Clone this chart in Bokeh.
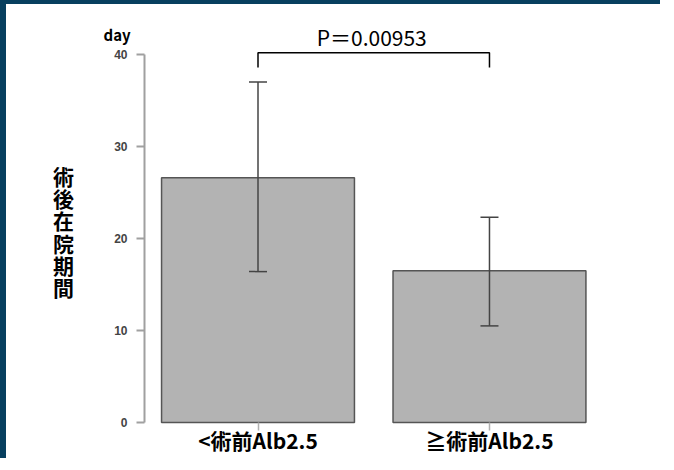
from bokeh.plotting import figure
from bokeh.models import FixedTicker, Label, Whisker, TeeHead, ColumnDataSource
from bokeh.embed import file_html
from bokeh.resources import INLINE

# ---- data ----
categories = ["<術前Alb2.5", "≧術前Alb2.5"]
means = [26.6, 16.5]
upper = [37.0, 22.3]
lower = [16.4, 10.5]
y_ticks = [0, 10, 20, 30, 40]
y_title = "術後在院期間"
y_unit = "day"
p_label = "P＝0.00953"

# R barplot convention: width 1, space 0.2
xs = [0.7 + 1.2 * i for i in range(len(categories))]
axis_x = 0.1116  # where the y axis line sits (R offsets it left of the first bar)

NAVY = "#073f5f"
p = figure(width=660, height=458, x_range=(-0.6038, 2.8177), y_range=(-4.348, 45.435),
           output_backend="svg", toolbar_location=None,
           min_border_left=0, min_border_right=0, min_border_top=0, min_border_bottom=0)
p.styles = {"border-left": f"6px solid {NAVY}", "border-top": f"4px solid {NAVY}"}
p.outline_line_color = None
p.grid.visible = False
p.background_fill_color = "white"
p.border_fill_color = "white"

src = ColumnDataSource(dict(x=xs, top=means, upper=upper, lower=lower))
p.vbar(x="x", top="top", bottom=0, width=1.0, source=src,
       fill_color="#b3b3b3", line_color="#555555", line_width=1.5)

w = Whisker(base="x", upper="upper", lower="lower", source=src, level="overlay",
            line_color="#444444", line_width=1.5,
            upper_head=TeeHead(size=18, line_color="#444444", line_width=1.5),
            lower_head=TeeHead(size=18, line_color="#444444", line_width=1.5))
p.add_layout(w)

# y axis
ya = p.yaxis[0]
ya.fixed_location = axis_x
ya.ticker = FixedTicker(ticks=y_ticks)
ya.bounds = (y_ticks[0], y_ticks[-1])
ya.axis_line_color = "#a0a0a0"
ya.axis_line_width = 2
ya.major_tick_line_color = "#a0a0a0"
ya.major_tick_line_width = 2
ya.major_tick_out = 8
ya.major_tick_in = 0
ya.minor_tick_line_color = None
ya.major_label_standoff = 9
ya.major_label_text_font = "Liberation Sans"
ya.major_label_text_font_style = "bold"
ya.major_label_text_font_size = "12px"
ya.major_label_text_color = "#444444"

# x axis
xa = p.xaxis[0]
xa.fixed_location = 0
xa.ticker = FixedTicker(ticks=xs)
xa.major_label_overrides = {x: c for x, c in zip(xs, categories)}
xa.axis_line_color = None
xa.major_tick_line_color = "#b0b0b0"
xa.major_tick_line_width = 1.5
xa.major_tick_out = 8
xa.major_tick_in = 0
xa.minor_tick_line_color = None
xa.major_label_standoff = -5
xa.major_label_text_font = "Noto Sans CJK JP"
xa.major_label_text_font_style = "bold"
xa.major_label_text_font_size = "21px"
xa.major_label_text_color = "black"

# significance bracket
b_top, b_drop = 40.2, 1.6
p.line(x=[xs[0], xs[0], xs[1], xs[1]], y=[b_top - b_drop, b_top, b_top, b_top - b_drop],
       line_color="black", line_width=1.5)
p.add_layout(Label(x=(xs[0] + xs[1]) / 2, y=41.9, x_offset=-2, text=p_label, text_align="center",
                   text_baseline="alphabetic", text_font="Noto Sans CJK JP",
                   text_font_size="21px", text_color="black"))

# unit label
p.add_layout(Label(x=-0.101, y=42.2, text=y_unit, text_align="left",
                   text_baseline="alphabetic", text_font="Noto Sans CJK JP",
                   text_font_size="15px", text_font_style="bold", text_color="black"))

# vertical stacked y title
p.add_layout(Label(x=-0.308, y=20.76, text="\n".join(y_title), text_align="center",
                   text_baseline="middle", text_font="Noto Sans CJK JP",
                   text_font_size="21px", text_font_style="bold", text_line_height=0.74,
                   text_color="black"))

open("out.html", "w").write(file_html(p, INLINE))
